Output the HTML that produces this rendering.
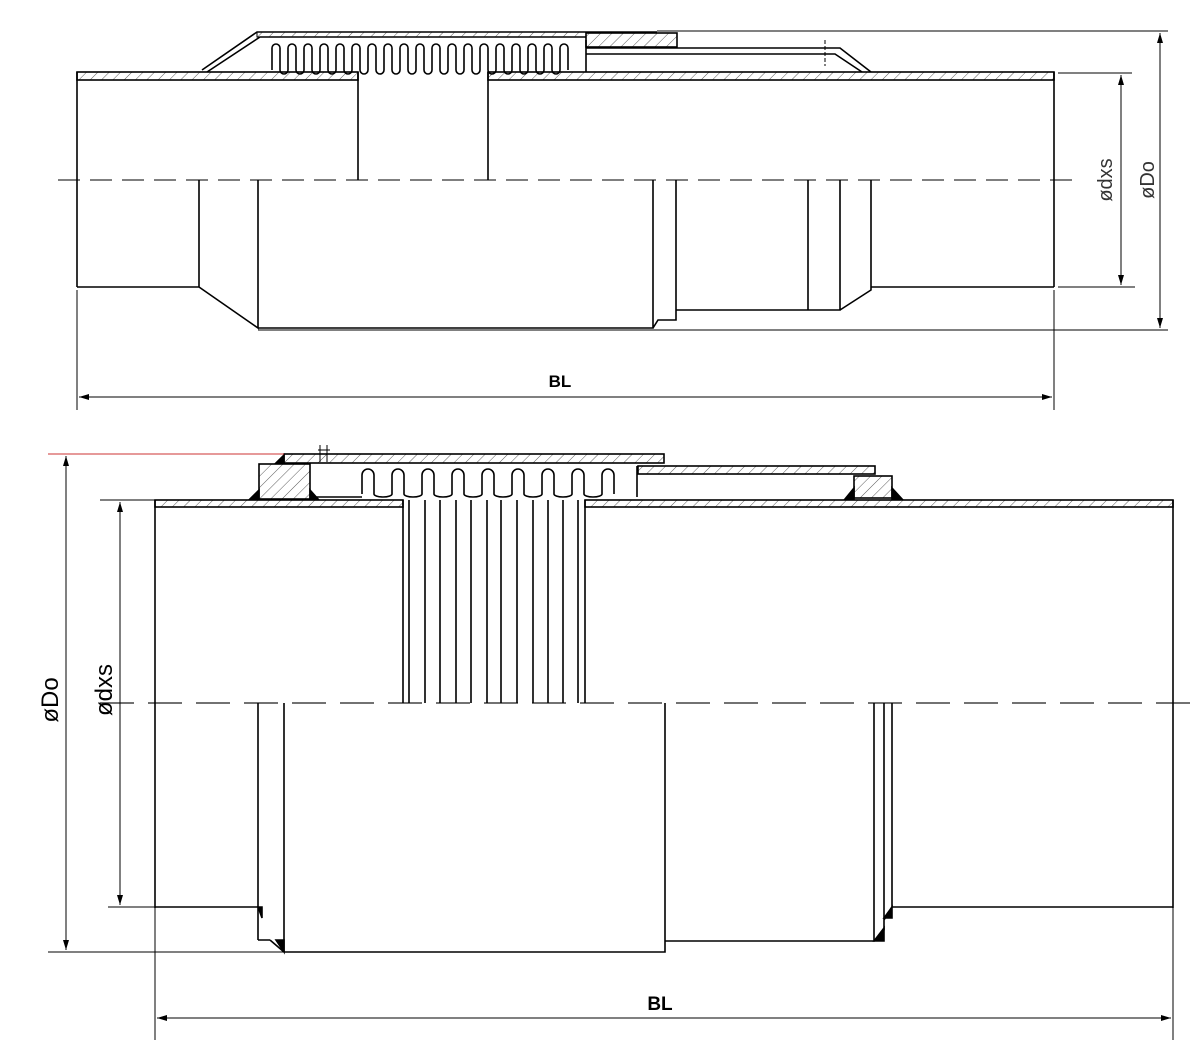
<!DOCTYPE html>
<html><head><meta charset="utf-8"><style>
html,body{margin:0;padding:0;background:#fff;}
svg{display:block;}
text{font-family:"Liberation Sans",sans-serif;}
</style></head><body>
<svg width="1200" height="1051" viewBox="0 0 1200 1051" xmlns="http://www.w3.org/2000/svg">
<defs>
<pattern id="h" width="8" height="8" patternUnits="userSpaceOnUse" patternTransform="rotate(45)">
<line x1="0" y1="0" x2="0" y2="8" stroke="#333" stroke-width="0.8"/></pattern>
<marker id="a" viewBox="0 0 10 10" refX="10" refY="5" markerWidth="10" markerHeight="10" orient="auto-start-reverse" markerUnits="userSpaceOnUse"><path d="M0 2 L10 5 L0 8z" fill="#000"/></marker>
</defs>
<g fill="none" stroke="#000" stroke-width="1.6">
<!-- TOP DRAWING -->
<line x1="58" y1="180" x2="1075" y2="180" stroke="#555" stroke-dasharray="22,10"/>
<rect x="77" y="72" width="281" height="8" fill="url(#h)"/>
<rect x="488" y="72" width="566" height="8" fill="url(#h)"/>
<line x1="77" y1="72" x2="77" y2="287"/>
<line x1="358" y1="72" x2="358" y2="180"/>
<line x1="488" y1="72" x2="488" y2="180"/>
<line x1="1054" y1="72" x2="1054" y2="287"/>
<path d="M77 287 H199 V180 M199 287 L258 328 V180 M258 328 H653 V180 M653 328 L658 320 H676 V180 M676 310 H808 V180 M808 310 H840 V180 M840 310 L871 290 V180 M871 287 H1054"/>
<path d="M272 70 v-22 a4 4 0 0 1 8 0 v22 a4 4 0 0 0 8 0 v-22 a4 4 0 0 1 8 0 v22 a4 4 0 0 0 8 0 v-22 a4 4 0 0 1 8 0 v22 a4 4 0 0 0 8 0 v-22 a4 4 0 0 1 8 0 v22 a4 4 0 0 0 8 0 v-22 a4 4 0 0 1 8 0 v22 a4 4 0 0 0 8 0 v-22 a4 4 0 0 1 8 0 v22 a4 4 0 0 0 8 0 v-22 a4 4 0 0 1 8 0 v22 a4 4 0 0 0 8 0 v-22 a4 4 0 0 1 8 0 v22 a4 4 0 0 0 8 0 v-22 a4 4 0 0 1 8 0 v22 a4 4 0 0 0 8 0 v-22 a4 4 0 0 1 8 0 v22 a4 4 0 0 0 8 0 v-22 a4 4 0 0 1 8 0 v22 a4 4 0 0 0 8 0 v-22 a4 4 0 0 1 8 0 v22 a4 4 0 0 0 8 0 v-22 a4 4 0 0 1 8 0 v22 a4 4 0 0 0 8 0 v-22 a4 4 0 0 1 8 0 v22 a4 4 0 0 0 8 0 v-22 a4 4 0 0 1 8 0 v22 a4 4 0 0 0 8 0 v-22 a4 4 0 0 1 8 0 v22 a4 4 0 0 0 8 0 v-22 a4 4 0 0 1 8 0 v22 a4 4 0 0 0 8 0 v-22 a4 4 0 0 1 8 0 v22 a4 4 0 0 0 8 0 v-22 a4 4 0 0 1 8 0 v22"/>
<path d="M202 70 L257 32 H657 M207 72 L260 37 H586"/>
<rect x="586" y="33" width="91" height="14" fill="url(#h)"/>
<path d="M586 40 V72 M586 48 H840 L871 72 M586 54 H835 L862 72" />
<rect x="257" y="32" width="329" height="5" fill="url(#h)" stroke-width="1"/>
<line x1="825" y1="40" x2="825" y2="66" stroke-width="1" stroke-dasharray="4,2"/>
<!-- dims top -->
<g stroke-width="1">
<line x1="657" y1="31" x2="1168" y2="31"/>
<line x1="1058" y1="73" x2="1132" y2="73"/>
<line x1="1058" y1="287" x2="1135" y2="287"/>
<line x1="258" y1="330" x2="1168" y2="330"/>
<line x1="1121" y1="75" x2="1121" y2="285" marker-start="url(#a)" marker-end="url(#a)"/>
<line x1="1160" y1="33" x2="1160" y2="328" marker-start="url(#a)" marker-end="url(#a)"/>
<line x1="77" y1="290" x2="77" y2="410"/>
<line x1="1054" y1="290" x2="1054" y2="410"/>
<line x1="79" y1="397" x2="1052" y2="397" marker-start="url(#a)" marker-end="url(#a)"/>
</g>
<!-- BOTTOM DRAWING -->
<line x1="100" y1="703" x2="1196" y2="703" stroke="#444" stroke-dasharray="34,14"/>
<rect x="155" y="500" width="248" height="7" fill="url(#h)"/>
<rect x="585" y="500" width="588" height="7" fill="url(#h)"/>
<line x1="155" y1="500" x2="155" y2="908"/>
<line x1="1173" y1="500" x2="1173" y2="908"/>
<path d="M403 500 V703 M409 500 V703 M425 500 V703 M440 500 V703 M456 500 V703 M471 500 V703 M487 500 V703 M501 500 V703 M517 500 V703 M533 500 V703 M548 500 V703 M563 500 V703 M578 500 V703 M585 500 V703"/>
<path d="M362 494 v-19 a6 6 0 0 1 12 0 v19 a9 3 0 0 0 18 0 v-19 a6 6 0 0 1 12 0 v19 a9 3 0 0 0 18 0 v-19 a6 6 0 0 1 12 0 v19 a9 3 0 0 0 18 0 v-19 a6 6 0 0 1 12 0 v19 a9 3 0 0 0 18 0 v-19 a6 6 0 0 1 12 0 v19 a9 3 0 0 0 18 0 v-19 a6 6 0 0 1 12 0 v19 a9 3 0 0 0 18 0 v-19 a6 6 0 0 1 12 0 v19 a9 3 0 0 0 18 0 v-19 a6 6 0 0 1 12 0 v19 a9 3 0 0 0 18 0 v-19 a6 6 0 0 1 12 0 v19"/>
<path d="M310 497 H362 M637 497 V466"/>
<rect x="259" y="464" width="51" height="35" fill="url(#h)"/>
<rect x="284" y="454" width="380" height="9" fill="url(#h)"/>
<rect x="638" y="466" width="237" height="8" fill="url(#h)"/>
<rect x="854" y="476" width="38" height="22" fill="url(#h)"/>
<path d="M250 499 L259 490 V499z M310 490 L318 499 H310z M845 499 L854 488 V499z M892 488 L902 499 H892z M276 463 L284 455 V463z" fill="#000"/>
<path d="M320 445 V462 M327 445 V462 M318 450 H330" stroke-width="1"/>
<path d="M155 907 H258 M258 703 V940 M258 940 L270 940 M284 703 V952 M270 940 L284 952 M284 952 H665 V703 M665 941 H874 V703 M874 941 L884 930 V703 M884 920 L892 907 V703 M892 907 H1173"/>
<path d="M276 940 L284 952 L284 940z M874 941 L884 928 V941z M884 918 L892 907 V918z M258 907 L262 918 V907z" fill="#000"/>
<g stroke-width="1">
<line x1="48" y1="454" x2="284" y2="454" stroke="#c33"/>
<line x1="48" y1="952" x2="284" y2="952"/>
<line x1="100" y1="500" x2="155" y2="500"/>
<line x1="108" y1="907" x2="155" y2="907"/>
<line x1="66" y1="456" x2="66" y2="950" marker-start="url(#a)" marker-end="url(#a)"/>
<line x1="120" y1="502" x2="120" y2="905" marker-start="url(#a)" marker-end="url(#a)"/>
<line x1="155" y1="908" x2="155" y2="1040"/>
<line x1="1173" y1="908" x2="1173" y2="1040"/>
<line x1="157" y1="1018" x2="1171" y2="1018" marker-start="url(#a)" marker-end="url(#a)"/>
</g>
</g>
<g fill="#000" stroke="none">
<text x="560" y="387" font-size="17" font-weight="bold" text-anchor="middle">BL</text>
<text x="660" y="1010" font-size="19" font-weight="bold" text-anchor="middle">BL</text>
<text transform="translate(1112,180) rotate(-90)" font-size="20" text-anchor="middle" fill="#333">ødxs</text>
<text transform="translate(1154,180) rotate(-90)" font-size="20" text-anchor="middle" fill="#333">øDo</text>
<text transform="translate(58,700) rotate(-90)" font-size="24" text-anchor="middle">øDo</text>
<text transform="translate(112,690) rotate(-90)" font-size="24" text-anchor="middle">ødxs</text>
</g>
</svg>
</body></html>
